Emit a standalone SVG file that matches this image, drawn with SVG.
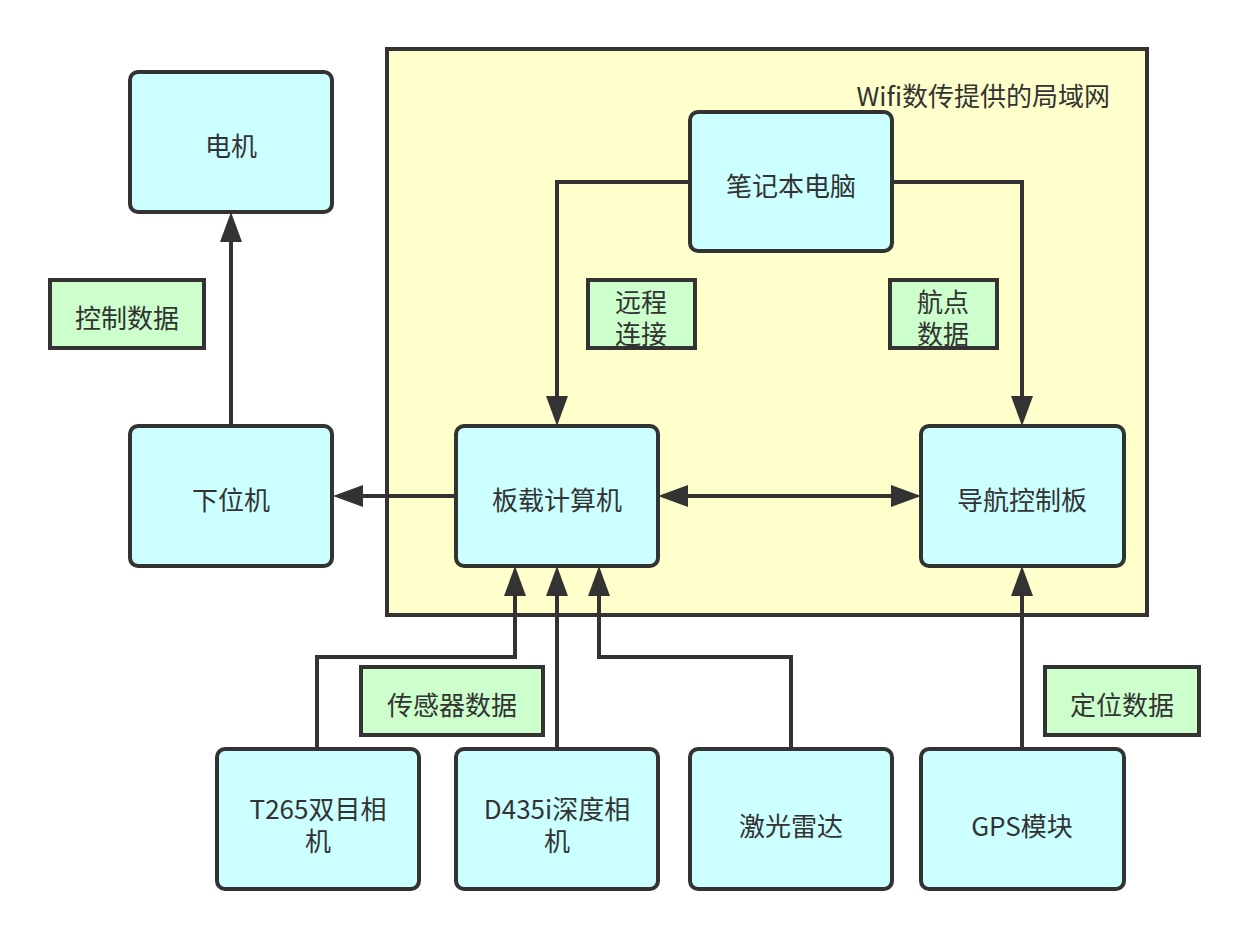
<svg xmlns="http://www.w3.org/2000/svg" width="1249" height="940" viewBox="0 0 1249 940">
<defs>
<style>
.node{fill:#ccffff;stroke:#333333;stroke-width:4}
.lbl{fill:#ccffcc;stroke:#333333;stroke-width:4}
.t{font-family:"Noto Sans CJK SC","Noto Sans",sans-serif;font-size:26px;fill:#333333;text-anchor:middle}
.c{fill:none;stroke:#333333;stroke-width:4}
</style>
<marker id="ah" markerUnits="userSpaceOnUse" markerWidth="30" markerHeight="22" refX="0" refY="11" orient="auto-start-reverse" viewBox="0 0 30 22">
<path d="M0,0 L30,11 L0,22 z" fill="#333333"/>
</marker>
</defs>
<rect width="1249" height="940" fill="#ffffff"/>
<g id="lan">
<rect x="387" y="49" width="760" height="566" fill="#ffffcc" stroke="#333333" stroke-width="4"/>
<text class="t" x="1110" y="106" style="text-anchor:end">Wifi数传提供的局域网</text>
</g>
<g id="connectors">
<path class="c" d="M231,426 V242" marker-end="url(#ah)"/>
<path class="c" d="M456,496 H363" marker-end="url(#ah)"/>
<path class="c" d="M688,496 H891" marker-start="url(#ah)" marker-end="url(#ah)"/>
<path class="c" d="M690,182 H557 V396" marker-end="url(#ah)"/>
<path class="c" d="M892,182 H1022 V396" marker-end="url(#ah)"/>
<path class="c" d="M1022,749 V596" marker-end="url(#ah)"/>
<path class="c" d="M317,749 V657 H515 V596" marker-end="url(#ah)"/>
<path class="c" d="M557,749 V596" marker-end="url(#ah)"/>
<path class="c" d="M791,749 V657 H599 V596" marker-end="url(#ah)"/>
</g>
<g id="motor"><rect class="node" x="130" y="72" width="202" height="140" rx="8"/><text class="t" x="231" y="156">电机</text></g>
<g id="ctrl-data"><rect class="lbl" x="50" y="280" width="154" height="68"/><text class="t" x="127" y="328">控制数据</text></g>
<g id="lower"><rect class="node" x="130" y="426" width="202" height="140" rx="8"/><text class="t" x="231" y="510">下位机</text></g>
<g id="onboard"><rect class="node" x="456" y="426" width="202" height="140" rx="8"/><text class="t" x="557" y="510">板载计算机</text></g>
<g id="nav"><rect class="node" x="921" y="426" width="203" height="140" rx="8"/><text class="t" x="1022" y="510">导航控制板</text></g>
<g id="laptop"><rect class="node" x="690" y="112" width="202" height="139" rx="8"/><text class="t" x="791" y="196">笔记本电脑</text></g>
<g id="remote"><rect class="lbl" x="588" y="280" width="107" height="68"/><text class="t" x="641" y="312">远程</text><text class="t" x="641" y="344">连接</text></g>
<g id="waypoint"><rect class="lbl" x="890" y="280" width="107" height="68"/><text class="t" x="943" y="312">航点</text><text class="t" x="943" y="344">数据</text></g>
<g id="sensor-data"><rect class="lbl" x="361" y="667" width="182" height="68"/><text class="t" x="452" y="715">传感器数据</text></g>
<g id="pos-data"><rect class="lbl" x="1045" y="667" width="154" height="68"/><text class="t" x="1122" y="715">定位数据</text></g>
<g id="t265"><rect class="node" x="217" y="749" width="202" height="140" rx="8"/><text class="t" x="318" y="819">T265双目相</text><text class="t" x="318" y="851">机</text></g>
<g id="d435i"><rect class="node" x="456" y="749" width="202" height="140" rx="8"/><text class="t" x="557" y="819">D435i深度相</text><text class="t" x="557" y="851">机</text></g>
<g id="lidar"><rect class="node" x="690" y="749" width="202" height="140" rx="8"/><text class="t" x="791" y="836">激光雷达</text></g>
<g id="gps"><rect class="node" x="921" y="749" width="203" height="140" rx="8"/><text class="t" x="1022" y="836">GPS模块</text></g>
</svg>
